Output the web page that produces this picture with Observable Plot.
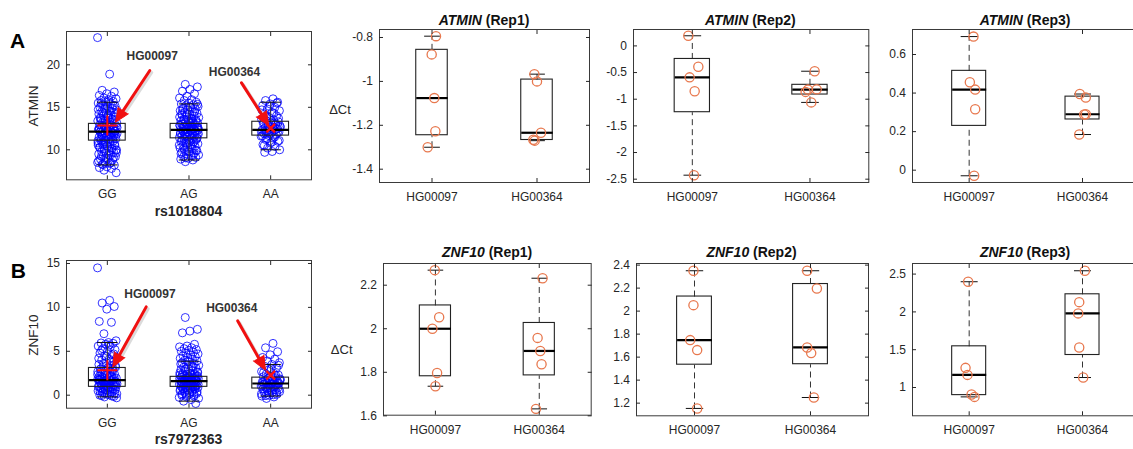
<!DOCTYPE html>
<html><head><meta charset="utf-8">
<script src="https://cdn.jsdelivr.net/npm/d3@7"></script>
<script src="https://cdn.jsdelivr.net/npm/@observablehq/plot@0.6"></script>
<style>
body{margin:0;background:#fff;}
#fig{position:relative;width:1133px;height:449px;overflow:hidden;font-family:"Liberation Sans",Arial,sans-serif;color:#262626;background:#fff;}
.abs{position:absolute;white-space:nowrap;}
</style></head><body><div id="fig"></div>
<script>
// ---------- data ----------
const genotypes = ["GG", "AG", "AA"];
const samples = ["HG00097", "HG00364"];

// population expression (panel A: ATMIN by rs1018804)
const atminGG = [23.2,18.9,17.0,16.8,16.6,16.4,16.3,16.1,16.0,15.9,15.8,15.7,15.6,15.5,15.4,15.3,15.2,15.1,15.0,14.9,14.8,14.7,14.6,14.5,14.4,14.3,14.2,14.1,14.0,13.9,13.8,13.7,13.6,13.5,13.4,13.3,13.2,13.1,13.0,12.95,12.9,12.8,12.75,12.7,12.6,12.5,12.45,12.4,12.3,12.25,12.2,12.15,12.1,12.0,11.95,11.9,11.8,11.75,11.7,11.6,11.5,11.45,11.4,11.3,11.2,11.1,11.0,10.9,10.8,10.7,10.6,10.5,10.4,10.3,10.2,10.1,10.0,9.9,9.8,9.7,9.6,9.5,9.4,9.3,9.2,9.0,8.9,8.8,8.6,8.5,8.4,8.3,8.2,8.0,7.9,7.8,7.6,7.3,
  15.65,15.45,15.25,14.95,14.75,14.55,14.35,14.15,13.95,13.75,13.55,13.35,13.15,13.05,12.85,12.65,12.55,12.35,12.05,11.85,11.65,11.55,11.35,11.25,11.15,11.05,10.95,10.85,10.65,10.45,10.25,10.05,9.85,9.65,9.45,9.25,9.1,8.95,8.7,8.45,8.25,12.18,12.22,12.12,11.98,12.02,12.62,12.88,11.62,11.92,13.02,12.48,11.72,10.75,9.95,14.05,13.48,12.32,11.38,10.55];
const atminAG = [17.7,17.4,17.1,16.9,16.6,16.3,16.1,15.9,15.8,15.6,15.5,15.4,15.3,15.2,15.1,15.0,14.9,14.8,14.7,14.6,14.5,14.4,14.3,14.2,14.1,14.0,13.9,13.8,13.7,13.6,13.5,13.45,13.4,13.3,13.2,13.15,13.1,13.0,12.95,12.9,12.85,12.8,12.7,12.65,12.6,12.5,12.45,12.4,12.35,12.3,12.2,12.15,12.1,12.0,11.95,11.9,11.8,11.75,11.7,11.6,11.5,11.45,11.4,11.3,11.2,11.1,11.0,10.9,10.8,10.7,10.6,10.5,10.4,10.3,10.2,10.1,10.0,9.9,9.8,9.7,9.6,9.5,9.4,9.3,9.2,9.1,9.0,8.9,8.8,8.6,
  15.35,15.05,14.75,14.45,14.15,13.85,13.65,13.55,13.35,13.25,13.05,12.98,12.75,12.55,12.42,12.38,12.25,12.05,11.85,11.65,11.55,11.35,11.25,11.15,10.95,10.75,10.55,10.35,10.15,9.95,9.75,9.55,9.35,9.05,12.62,12.28,12.18,11.98,12.72,12.88,13.12,11.78,11.42,10.85,14.25,12.52,12.12,11.88,13.42,12.68];
const atminAA = [16.0,15.8,15.6,15.4,15.2,15.0,14.8,14.6,14.4,14.2,14.0,13.8,13.6,13.5,13.4,13.3,13.2,13.1,13.0,12.9,12.8,12.7,12.6,12.5,12.4,12.35,12.3,12.2,12.1,12.0,11.9,11.8,11.7,11.6,11.4,11.2,11.0,10.8,10.6,10.4,10.2,10.0,9.8,9.7,
  15.5,15.1,14.7,14.3,13.9,13.7,13.45,13.25,13.05,12.85,12.65,12.45,12.25,12.05,11.85,11.65,11.5,11.3,11.1,10.9,10.5,12.42,12.38,12.15,12.55,11.95,12.75,13.15];
// box statistics: [q1, median, q3, lowerWhisker, upperWhisker]
const atminBoxes = [[11.08,12.14,13.05,8.22,15.6],[11.35,12.35,13.05,8.8,15.4],[11.67,12.35,13.3,10.0,15.6]];
const atminHighlight = [12.85, 12.55]; // HG00097 (GG), HG00364 (AA)

// population expression (panel B: ZNF10 by rs7972363)
const znfGG = [14.5,10.8,10.5,10.1,9.8,8.4,8.3,7.0,6.2,6.0,5.95,5.9,5.8,5.6,5.5,5.3,5.2,5.0,4.8,4.6,4.5,4.3,4.1,4.0,3.8,3.7,3.5,3.4,3.3,3.2,3.1,3.0,2.9,2.8,2.7,2.6,2.5,2.4,2.3,2.2,2.1,2.0,1.95,1.9,1.85,1.8,1.75,1.7,1.65,1.6,1.55,1.5,1.45,1.4,1.35,1.3,1.25,1.2,1.15,1.1,1.05,1.0,0.95,0.9,0.85,0.8,0.7,0.6,0.5,0.4,0.3,0.2,0.1,0.0,-0.1,-0.2,-0.3,
  5.7,5.1,4.7,4.4,4.2,3.9,3.6,3.35,3.15,2.95,2.75,2.55,2.35,2.15,2.05,1.92,1.82,1.72,1.68,1.58,1.48,1.38,1.28,1.18,1.08,0.98,0.88,0.75,0.65,0.55,0.45,0.35,0.25,0.15,0.05,-0.05,-0.15,1.62,1.78,2.25,1.42,1.12,0.92,2.65,3.05,1.52,1.88,0.72,0.42];
const znfAG = [8.85,7.5,7.3,7.1,5.8,5.6,5.5,5.4,5.3,5.2,5.1,5.0,4.9,4.8,4.7,4.6,4.5,4.4,4.3,4.2,4.1,4.0,3.9,3.8,3.7,3.6,3.5,3.4,3.3,3.2,3.1,3.0,2.9,2.8,2.7,2.6,2.5,2.45,2.4,2.35,2.3,2.25,2.2,2.15,2.1,2.05,2.0,1.95,1.9,1.85,1.8,1.75,1.7,1.65,1.6,1.55,1.5,1.45,1.4,1.35,1.3,1.25,1.2,1.15,1.1,1.05,1.0,0.95,0.9,0.85,0.8,0.75,0.7,0.6,0.5,0.4,0.3,0.2,0.1,0.0,-0.1,-0.2,-0.35,-0.5,-0.68,-0.95,
  3.85,3.55,3.25,2.95,2.65,2.42,2.28,2.12,1.98,1.88,1.78,1.68,1.62,1.58,1.52,1.42,1.32,1.22,1.12,1.02,0.92,0.82,0.65,0.55,0.45,0.35,0.25,0.15,0.05,-0.05,-0.25,1.72,1.48,1.82,2.02,1.28,1.08,0.88,2.18,1.38,0.72,0.98,1.92,2.55,1.65];
const znfAA = [5.9,5.4,4.95,4.6,4.3,4.1,3.9,3.7,3.5,3.3,3.1,2.9,2.7,2.5,2.4,2.3,2.2,2.1,2.0,1.9,1.85,1.8,1.7,1.65,1.6,1.5,1.45,1.4,1.35,1.3,1.25,1.2,1.1,1.05,1.0,0.9,0.85,0.8,0.7,0.6,0.5,0.4,0.3,0.2,0.1,0.0,-0.1,-0.2,-0.37,
  3.4,3.0,2.6,2.25,1.95,1.75,1.55,1.42,1.32,1.28,1.15,0.95,0.75,0.65,0.55,0.45,0.35,0.25,0.15,0.05,-0.05,1.38,1.22,1.48,1.02,0.88,1.68,2.05];
const znfBoxes = [[0.95,1.71,3.1,-0.19,6.0],[0.95,1.6,2.09,-0.68,3.87],[0.76,1.33,2.0,-0.1,3.5]];
const znfHighlight = [2.85, 2.28];

// arrow annotations (label position, arrow start, arrow tip) in data units
const annotA = [
  {label: "HG00097", lx: 1.549, ly: 20.98, x1: 1.52, y1: 19.33, x2: 1.10, y2: 13.25},
  {label: "HG00364", lx: 2.557, ly: 19.13, x1: 2.643, y1: 17.88, x2: 2.977, y2: 12.86}
];
const annotB = [
  {label: "HG00097", lx: 1.522, ly: 11.47, x1: 1.476, y1: 10.06, x2: 1.067, y2: 3.22},
  {label: "HG00364", lx: 2.524, ly: 9.94, x1: 2.597, y1: 8.46, x2: 2.937, y2: 2.85}
];

// qPCR ΔCt replicates (5 values per sample) with horizontal jitter
const atminRep1_097 = [-0.794,-0.877,-1.076,-1.227,-1.30], atminRep1_097j = [0.038,-0.003,0.022,0.032,-0.041];
const atminRep1_364 = [-0.967,-1.0,-1.234,-1.266,-1.27],  atminRep1_364j = [-0.025,0,0.038,-0.035,-0.022];
const atminRep2_097 = [0.19,-0.39,-0.59,-0.85,-2.425],    atminRep2_097j = [-0.034,0.051,-0.023,0.020,0.014];
const atminRep2_364 = [-0.475,-0.815,-0.82,-0.863,-1.06], atminRep2_364j = [0.04,0.057,-0.017,-0.037,0.011];
const atminRep3_097 = [0.693,0.456,0.418,0.316,-0.029],   atminRep3_097j = [0.038,0.006,0.053,0.053,0.044];
const atminRep3_364 = [0.395,0.377,0.289,0.29,0.185],     atminRep3_364j = [-0.024,0.029,0.015,0.029,-0.029];
const znfRep1_097 = [2.269,2.053,2.0,1.797,1.736],        znfRep1_097j = [-0.006,0.036,-0.029,0.016,0];
const znfRep1_364 = [2.232,1.958,1.898,1.837,1.632],      znfRep1_364j = [0.032,-0.016,0.01,0.022,-0.032];
const znfRep2_097 = [2.351,2.052,1.748,1.661,1.154],      znfRep2_097j = [-0.009,-0.009,-0.037,0.023,0.023];
const znfRep2_364 = [2.351,2.197,1.684,1.635,1.249],      znfRep2_364j = [-0.029,0.055,-0.029,0.006,0.029];
const znfRep3_097 = [2.399,1.26,1.167,0.907,0.876],       znfRep3_097j = [-0.009,-0.032,-0.015,0.021,0.047];
const znfRep3_364 = [2.544,2.129,1.98,1.529,1.132],       znfRep3_364j = [0.021,-0.029,-0.038,-0.029,0.006];

// tick values
const ticksA = [10, 15, 20];
const ticksB = [0, 5, 10, 15];
const ticksAtminRep1 = [-1.4, -1.2, -1, -0.8];
const ticksAtminRep2 = [-2.5, -2, -1.5, -1, -0.5, 0];
const ticksAtminRep3 = [0, 0.2, 0.4, 0.6];
const ticksZnfRep1 = [1.6, 1.8, 2, 2.2];
const ticksZnfRep2 = [1.2, 1.4, 1.6, 1.8, 2, 2.2, 2.4];
const ticksZnfRep3 = [1, 1.5, 2, 2.5];

// ---------- drawing ----------
const fig = document.getElementById("fig");
const FONT = '"Liberation Sans", Arial, sans-serif';
const fmtNum = d => String(Math.round(d * 1000) / 1000);

function mquantile(s, p) { // MATLAB-style percentile
  const n = s.length; const pos = n * p + 0.5;
  if (pos <= 1) return s[0]; if (pos >= n) return s[n - 1];
  const i = Math.floor(pos), f = pos - i;
  return s[i - 1] + f * (s[i] - s[i - 1]);
}
function boxStats(vals, x) {
  const s = vals.slice().sort((a, b) => a - b);
  const q1 = mquantile(s, 0.25), med = mquantile(s, 0.5), q3 = mquantile(s, 0.75);
  const iqr = q3 - q1;
  const inside = s.filter(v => v >= q1 - 1.5 * iqr && v <= q3 + 1.5 * iqr);
  return {x, q1, med, q3, lo: d3.min(inside), hi: d3.max(inside)};
}

function boxMarks(stats, bw, cw, dashed) {
  const wl = {stroke: "#333", strokeWidth: 1, strokeDasharray: dashed ? "6,4" : null};
  return [
    Plot.link(stats, {x1: "x", x2: "x", y1: "q3", y2: "hi", ...wl}),
    Plot.link(stats, {x1: "x", x2: "x", y1: "lo", y2: "q1", ...wl}),
    Plot.link(stats, {x1: d => d.x - cw, x2: d => d.x + cw, y1: "hi", y2: "hi", stroke: "#111"}),
    Plot.link(stats, {x1: d => d.x - cw, x2: d => d.x + cw, y1: "lo", y2: "lo", stroke: "#111"}),
    Plot.rect(stats, {x1: d => d.x - bw, x2: d => d.x + bw, y1: "q1", y2: "q3", fill: "none", stroke: "#222", strokeWidth: 1.1}),
    Plot.link(stats, {x1: d => d.x - bw, x2: d => d.x + bw, y1: "med", y2: "med", stroke: "#000", strokeWidth: 2.2})
  ];
}

function repMarks(groups) {
  return () => {
    const pts = [], stats = [];
    groups.forEach(([vals, jit], gi) => {
      vals.forEach((v, i) => pts.push({x: gi + 1 + jit[i], v}));
      stats.push(boxStats(vals, gi + 1));
    });
    return [
      ...boxMarks(stats, 0.15, 0.075, true),
      Plot.dot(pts, {x: "x", y: "v", r: 4.6, stroke: "#E8784E", strokeWidth: 1.3, fill: "none"})
    ];
  };
}

function popMarks(groups, boxes, highlight, annot) {
  return (kx, ky) => {
    const pts = [];
    groups.forEach((vals, gi) => vals.forEach((v, i) => {
      const j = ((i * 0.6180339887 + gi * 0.31) % 1 - 0.5) * 0.24;
      pts.push({x: gi + 1 + j, v});
    }));
    const stats = boxes.map((b, gi) => ({x: gi + 1, q1: b[0], med: b[1], q3: b[2], lo: b[3], hi: b[4]}));
    const hl = [{x: 1, v: highlight[0]}, {x: 3, v: highlight[1]}];
    const ann = annot.map(a => ({...a, rot: Math.atan2((a.x2 - a.x1) * kx, (a.y2 - a.y1) * ky) * 180 / Math.PI}));
    return [
      Plot.dot(pts, {x: "x", y: "v", r: 4, stroke: "#0000ff", strokeOpacity: 0.8, strokeWidth: 1, fill: "none"}),
      ...boxMarks(stats, 0.225, 0.125, false),
      Plot.dot(hl.slice(0, 1), {x: "x", y: "v", symbol: "plus", r: 6.5, stroke: "#ff1010", strokeWidth: 2}),
      Plot.dot(hl.slice(1), {x: "x", y: "v", symbol: "times", r: 4, stroke: "#ff1010", strokeWidth: 2.4}),
      Plot.arrow(ann, {x1: "x1", y1: "y1", x2: "x2", y2: "y2", stroke: "#999", strokeOpacity: 0.35, strokeWidth: 3, headLength: 0, insetEnd: 10, dx: 2, dy: 2}),
      Plot.arrow(ann, {x1: "x1", y1: "y1", x2: "x2", y2: "y2", stroke: "#f01010", strokeWidth: 3, headLength: 0, insetEnd: 10}),
      Plot.vector(ann, {x: "x2", y: "y2", rotate: "rot", length: 14, shape: "spike", r: 6, anchor: "end", fill: "#f01010", stroke: "#f01010", strokeWidth: 1}),
      Plot.text(ann, {x: "lx", y: "ly", text: "label", fontWeight: "bold", fontSize: 12, fill: "#333"})
    ];
  };
}

function addPanel(cfg) {
  const mL = 50, mR = 12, mT = 12, mB = 40;
  const [fx0, fy0, fx1, fy1] = cfg.frame;
  const W = fx1 - fx0, H = fy1 - fy0;
  const kx = W / (cfg.xdom[1] - cfg.xdom[0]), ky = H / (cfg.ydom[1] - cfg.ydom[0]);
  const xt = cfg.cats.map((c, i) => i + 1);
  const svg = Plot.plot({
    width: W + mL + mR, height: H + mT + mB,
    marginLeft: mL, marginRight: mR, marginTop: mT, marginBottom: mB,
    style: `max-width:none;overflow:visible;background:transparent;font-family:${FONT};font-size:12px;color:#262626;`,
    x: {domain: cfg.xdom, label: null},
    y: {domain: cfg.ydom, label: null},
    marks: [
      ...cfg.marks(kx, ky),
      Plot.frame({stroke: "#3a3a3a"}),
      Plot.axisY(cfg.yticks, {anchor: "left", tickSize: -4, tickPadding: 10.5, tickFormat: fmtNum, fontSize: 12, label: null}),
      Plot.axisY(cfg.yticks, {anchor: "right", tickSize: -4, tickFormat: () => "", label: null}),
      Plot.axisX(xt, {anchor: "bottom", tickSize: -4, tickPadding: 14, tickFormat: i => cfg.cats[i - 1], fontSize: 12, label: null}),
      Plot.axisX(xt, {anchor: "top", tickSize: -4, tickFormat: () => "", label: null})
    ]
  });
  const div = document.createElement("div");
  div.className = "abs";
  div.style.left = (fx0 - mL) + "px";
  div.style.top = (fy0 - mT) + "px";
  div.appendChild(svg);
  fig.appendChild(div);
  if (cfg.title) label(cfg.title, (fx0 + fx1) / 2, cfg.titleY, "font-weight:bold;font-size:14px;color:#111;");
}

function label(html, cx, cy, style, rot) {
  const d = document.createElement("div");
  d.className = "abs";
  d.innerHTML = html;
  d.style.cssText += `left:${cx}px;top:${cy}px;transform:translate(-50%,-50%)${rot ? " rotate(" + rot + "deg)" : ""};${style}`;
  fig.appendChild(d);
}

// Panel A (population)
addPanel({frame: [66, 31, 311, 179.3], xdom: [0.5, 3.5], ydom: [6.47, 23.92], yticks: ticksA, cats: genotypes,
  marks: popMarks([atminGG, atminAG, atminAA], atminBoxes, atminHighlight, annotA)});
// Panel B (population)
addPanel({frame: [66, 260.3, 311, 408], xdom: [0.5, 3.5], ydom: [-1.48, 15.34], yticks: ticksB, cats: genotypes,
  marks: popMarks([znfGG, znfAG, znfAA], znfBoxes, znfHighlight, annotB)});

// ATMIN replicates
addPanel({frame: [379, 29.3, 589, 182.3], xdom: [0.5, 2.5], ydom: [-1.4606, -0.7636], yticks: ticksAtminRep1, cats: samples,
  marks: repMarks([[atminRep1_097, atminRep1_097j], [atminRep1_364, atminRep1_364j]]), title: "<i>ATMIN</i> (Rep1)", titleY: 19.5});
addPanel({frame: [632.7, 29.3, 868, 182.3], xdom: [0.5, 2.5], ydom: [-2.562, 0.3076], yticks: ticksAtminRep2, cats: samples,
  marks: repMarks([[atminRep2_097, atminRep2_097j], [atminRep2_364, atminRep2_364j]]), title: "<i>ATMIN</i> (Rep2)", titleY: 19.5});
addPanel({frame: [911.7, 29.3, 1138.4, 182.3], xdom: [0.5, 2.5], ydom: [-0.0638, 0.7297], yticks: ticksAtminRep3, cats: samples,
  marks: repMarks([[atminRep3_097, atminRep3_097j], [atminRep3_364, atminRep3_364j]]), title: "<i>ATMIN</i> (Rep3)", titleY: 19.5});

// ZNF10 replicates
addPanel({frame: [383.3, 263.3, 591, 415], xdom: [0.5, 2.5], ydom: [1.603, 2.2996], yticks: ticksZnfRep1, cats: samples,
  marks: repMarks([[znfRep1_097, znfRep1_097j], [znfRep1_364, znfRep1_364j]]), title: "<i>ZNF10</i> (Rep1)", titleY: 251.5});
addPanel({frame: [635.5, 262.7, 867.5, 415], xdom: [0.5, 2.5], ydom: [1.09, 2.414], yticks: ticksZnfRep2, cats: samples,
  marks: repMarks([[znfRep2_097, znfRep2_097j], [znfRep2_364, znfRep2_364j]]), title: "<i>ZNF10</i> (Rep2)", titleY: 251.5});
addPanel({frame: [911.7, 262.7, 1138.4, 415], xdom: [0.5, 2.5], ydom: [0.626, 2.64], yticks: ticksZnfRep3, cats: samples,
  marks: repMarks([[znfRep3_097, znfRep3_097j], [znfRep3_364, znfRep3_364j]]), title: "<i>ZNF10</i> (Rep3)", titleY: 251.5});

// other text
label("A", 17.5, 41, "font-weight:bold;font-size:21px;color:#000;");
label("B", 18.3, 270.7, "font-weight:bold;font-size:21px;color:#000;");
label("ATMIN", 33.3, 105.5, "font-size:13.5px;color:#262626;", -90);
label("ZNF10", 33.3, 335, "font-size:13.5px;color:#262626;", -90);
label("rs1018804", 188.5, 210.5, "font-weight:bold;font-size:14px;color:#262626;");
label("rs7972363", 188.5, 439.3, "font-weight:bold;font-size:14px;color:#262626;");
label("ΔCt", 340, 109, "font-size:13px;color:#262626;");
label("ΔCt", 341.7, 349, "font-size:13px;color:#262626;");
</script></body></html>
